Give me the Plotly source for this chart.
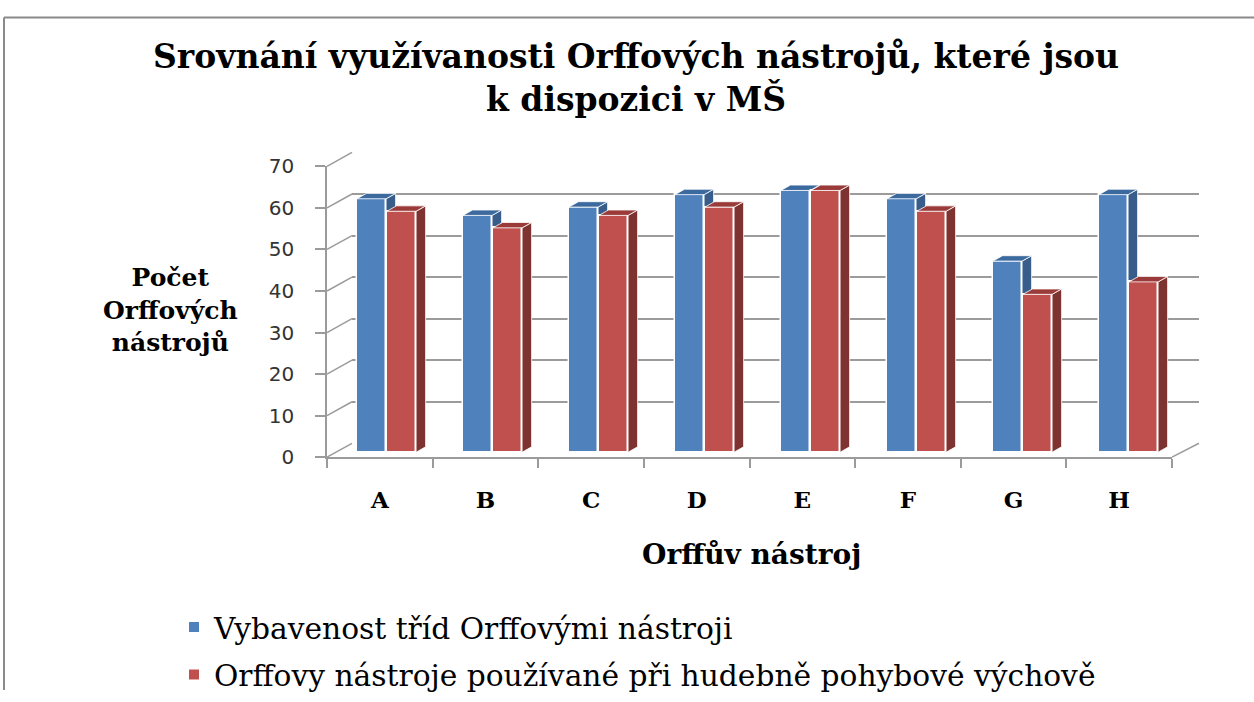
import plotly.graph_objects as go

# ---------------- data ----------------
categories = ["A", "B", "C", "D", "E", "F", "G", "H"]
vybavenost = [61, 57, 59, 62, 63, 61, 46, 62]
pouzivane = [58, 54, 57, 59, 63, 58, 38, 41]
series_names = ["Vybavenost tříd Orffovými nástroji",
                "Orffovy nástroje používané při hudebně pohybové výchově"]
y_ticks = [0, 10, 20, 30, 40, 50, 60, 70]

title_text = "Srovnání využívanosti Orffových nástrojů, které jsou<br>k dispozici v MŠ"
x_title = "Orffův nástroj"
y_title = "Počet<br>Orffových<br>nástrojů"

# ---------------- geometry helpers ----------------
W, H = 1254, 702
# the captured page is slightly compressed vertically; compensate
OFF, SC = 8.5, 0.973
def px(x):
    return x / W
def py(y):
    return 1 - ((y - OFF) / SC) / H

SERIF = "DejaVu Serif"
SANS = "DejaVu Sans"
GRID = "#9b9b9b"

blue_front, blue_side, blue_top = "#4F81BD", "#385D8A", "#3D6A9E"
red_front, red_side, red_top = "#C0504D", "#7E3331", "#9A3B39"

n = len(categories)
idx = list(range(n))
bar_w = 0.275
offsets = [-0.165, 0.118]
depth_dx, depth_dy = 0.09, 1.3

fig = go.Figure()

# front axis carrier (invisible)
fig.add_trace(go.Scatter(x=categories, y=[None] * n, xaxis="x", yaxis="y",
                         mode="markers", showlegend=False, hoverinfo="skip"))
# back wall carrier (invisible)
fig.add_trace(go.Scatter(x=idx, y=[None] * n, xaxis="x2", yaxis="y2",
                         mode="markers", showlegend=False, hoverinfo="skip"))


def faces(xc, vals):
    sx, sy, tx, ty = [], [], [], []
    for x, v in zip(xc, vals):
        l, r = x - bar_w / 2, x + bar_w / 2
        sx += [r, r + depth_dx, r + depth_dx, r, r, None]
        sy += [0, depth_dy, v + depth_dy, v, 0, None]
        tx += [l, l + depth_dx, r + depth_dx, r, l, None]
        ty += [v, v + depth_dy, v + depth_dy, v, v, None]
    return sx, sy, tx, ty


for k, (vals, name, cf, cs, ct, xa, ya) in enumerate([
        (vybavenost, series_names[0], blue_front, blue_side, blue_top, "x3", "y3"),
        (pouzivane, series_names[1], red_front, red_side, red_top, "x4", "y4")]):
    xc = [i + offsets[k] for i in idx]
    fig.add_trace(go.Bar(x=xc, y=vals, width=bar_w, name=name, xaxis=xa, yaxis=ya,
                         legendgroup="g%d" % k,
                         marker=dict(color=cf, line=dict(color="white", width=1.5))))
    sx, sy, tx, ty = faces(xc, vals)
    fig.add_trace(go.Scatter(x=sx, y=sy, xaxis=xa, yaxis=ya, mode="lines", fill="toself",
                             fillcolor=cs, line=dict(color="rgba(255,255,255,0.8)", width=1),
                             showlegend=False, hoverinfo="skip"))
    fig.add_trace(go.Scatter(x=tx, y=ty, xaxis=xa, yaxis=ya, mode="lines", fill="toself",
                             fillcolor=ct, line=dict(color="rgba(255,255,255,0.8)", width=1),
                             showlegend=False, hoverinfo="skip"))

# front plane pixel geometry
FX0, FX1, FY0, FY70 = 327, 1172, 457, 164
# back wall pixel geometry
BX0, BX1, BY0, BY70 = 352, 1199, 443, 150
# bar plane
PX0, PX1, PY0, PY70 = 336, 1184, 452, 159

shapes = []
for v in y_ticks:
    yf = FY0 + (FY70 - FY0) * v / 70
    yb = BY0 + (BY70 - BY0) * v / 70
    shapes.append(dict(type="line", xref="paper", yref="paper",
                       x0=px(FX0), y0=py(yf), x1=px(BX0), y1=py(yb),
                       line=dict(color=GRID, width=1.5)))
# right floor edge
shapes.append(dict(type="line", xref="paper", yref="paper",
                   x0=px(FX1), y0=py(FY0), x1=px(BX1), y1=py(BY0),
                   line=dict(color=GRID, width=1.5)))
# outer frame (top and left edges only are visible)
shapes.append(dict(type="line", xref="paper", yref="paper",
                   x0=px(4), y0=py(14), x1=1.0, y1=py(14),
                   line=dict(color="#8a8a8a", width=2)))
shapes.append(dict(type="line", xref="paper", yref="paper",
                   x0=px(4), y0=py(14), x1=px(4), y1=0.0,
                   line=dict(color="#8a8a8a", width=2)))

fig.update_layout(
    width=W, height=H,
    margin=dict(l=0, r=0, t=0, b=0),
    paper_bgcolor="white", plot_bgcolor="rgba(0,0,0,0)",
    bargap=0, barmode="overlay",
    shapes=shapes,
    xaxis=dict(domain=[px(FX0), px(FX1)], type="category", categoryorder="array",
               categoryarray=categories, range=[-0.5, n - 0.5],
               showline=True, linecolor=GRID, linewidth=1.5,
               ticks="outside", tickson="boundaries", ticklen=9, tickwidth=1.5,
               tickcolor=GRID, showgrid=False, zeroline=False,
               tickfont=dict(family=SERIF, size=23, color="black", weight="bold"),
               ticklabelstandoff=21, anchor="y", fixedrange=True),
    yaxis=dict(domain=[py(FY0), py(FY70)], range=[0, 70], tickvals=y_ticks,
               showline=True, linecolor=GRID, linewidth=1.5,
               ticks="outside", ticklen=10, tickwidth=1.5, tickcolor=GRID,
               showgrid=False, zeroline=False,
               tickfont=dict(family=SANS, size=20, color="#333"),
               ticklabelstandoff=17, anchor="x", fixedrange=True),
    xaxis2=dict(domain=[px(BX0), px(BX1)], range=[-0.5, n - 0.5], visible=False,
                anchor="y2", fixedrange=True),
    yaxis2=dict(domain=[py(BY0), py(BY70)], range=[0, 70], tickvals=y_ticks,
                showgrid=True, gridcolor=GRID, gridwidth=1.5, showticklabels=False,
                zeroline=False, showline=False, ticks="", anchor="x2", fixedrange=True),
    xaxis3=dict(domain=[px(PX0), px(PX1)], range=[-0.5, n - 0.5], visible=False,
                anchor="y3", fixedrange=True),
    yaxis3=dict(domain=[py(PY0), py(PY70)], range=[0, 70], visible=False,
                anchor="x3", fixedrange=True),
    xaxis4=dict(overlaying="x3", range=[-0.5, n - 0.5], visible=False,
                anchor="y4", fixedrange=True),
    yaxis4=dict(overlaying="y3", range=[0, 70], visible=False,
                anchor="x4", fixedrange=True),
    legend=dict(x=px(174), y=py(602), xanchor="left", yanchor="top",
                font=dict(family=SERIF, size=29.7, color="black"),
                itemsizing="constant", tracegroupgap=6, bgcolor="rgba(0,0,0,0)"),
    annotations=[
        dict(text="<b>" + title_text + "</b>", xref="paper", yref="paper",
             x=px(636), y=py(75), xanchor="center", yanchor="middle", showarrow=False,
             font=dict(family=SERIF, size=33, color="black"), align="center"),
        dict(text="<b>" + y_title + "</b>", xref="paper", yref="paper",
             x=px(170), y=py(309), xanchor="center", yanchor="middle", showarrow=False,
             font=dict(family=SERIF, size=25, color="black"), align="center"),
        dict(text="<b>" + x_title + "</b>", xref="paper", yref="paper",
             x=px(751), y=py(555), xanchor="center", yanchor="middle", showarrow=False,
             font=dict(family=SERIF, size=28, color="black"), align="center"),
    ],
)

post = (
    "document.documentElement.style.overflow='hidden';"
    "document.body.style.margin='0';document.body.style.overflow='hidden';"
    "var gd=document.getElementsByClassName('plotly-graph-div')[0];"
    "gd.style.position='fixed';gd.style.top='0px';gd.style.left='0px';"
)
fig.write_html("out.html", config={"displayModeBar": False}, post_script=post)
